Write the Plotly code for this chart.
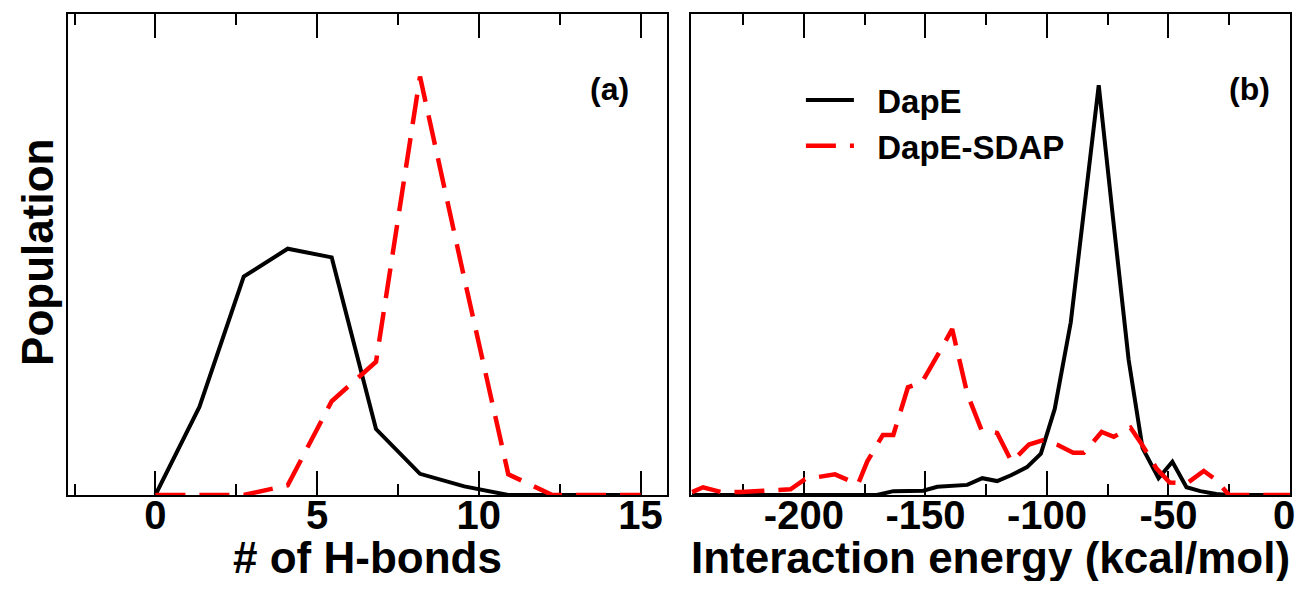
import plotly.graph_objects as go
from plotly.subplots import make_subplots

# ---- data (population, normalised to plot height) ----
hbond_x = [0, 1.36, 2.73, 4.09, 5.45, 6.82, 8.18, 9.55, 10.91, 12.27, 13.64, 15.0]
hbond_dape = [0, 0.183, 0.454, 0.512, 0.494, 0.137, 0.044, 0.018, 0, 0, 0, 0]
hbond_sdap = [0, 0, 0, 0.02, 0.195, 0.277, 0.87, 0.45, 0.043, 0, 0, 0]

energy_dape_x = [-246, -170, -163.2, -150.9, -145.1, -132.8, -126.6, -120.5, -114.8,
                 -108.2, -102.5, -96.8, -90.2, -84.5, -78.7, -73.0, -66.4, -60.7,
                 -54.1, -48.4, -42.6, -36.9, -30.3, -25.4, 0]
energy_dape_y = [0, 0, 0.008, 0.009, 0.017, 0.021, 0.035, 0.029, 0.041,
                 0.058, 0.086, 0.179, 0.359, 0.604, 0.852, 0.584, 0.281, 0.098,
                 0.035, 0.069, 0.016, 0.008, 0.002, 0, 0]

energy_sdap_x = [-246, -241.5, -234, -226, -216.5, -205.5, -199.5, -187.2, -177.8,
                 -173.9, -167.5, -163.2, -157.2, -151.5, -143.5, -139, -132.8, -127,
                 -120.5, -114.5, -107.4, -101.5, -95.5, -89.2, -84.8, -77.5, -72.5,
                 -65.6, -60.8, -54.9, -49.5, -42.5, -35.5, -30.3, -25.2, 0]
energy_sdap_y = [0.006, 0.016, 0.006, 0.006, 0.009, 0.012, 0.033, 0.043, 0.022,
                 0.07, 0.125, 0.125, 0.224, 0.234, 0.304, 0.345, 0.211, 0.136,
                 0.129, 0.069, 0.105, 0.114, 0.104, 0.088, 0.088, 0.131, 0.121,
                 0.14, 0.104, 0.055, 0.026, 0.024, 0.05, 0.031, 0, 0]

series_names = ["DapE", "DapE-SDAP"]
hbond_ticks = [0, 5, 10, 15]
hbond_ticktext = ["0", "5", "10", "15"]
energy_ticks = [-200, -150, -100, -50, 0]
energy_ticktext = ["-200", "-150", "-100", "-50", "0"]

FONT = "Liberation Sans, Arial, sans-serif"
W, H = 1309, 589
OFF = 8                      # default page margin around the plot div
Wf, Hf = W - 2 * OFF, H - 2 * OFF
E_RANGE = [-246.3, 0]

def px_x(p):
    return (p - OFF) / Wf

def px_y(p):
    return 1 - (p - OFF) / Hf

fig = make_subplots(rows=1, cols=2)

black = dict(color="black", width=4)
red = dict(color="#ff0000", width=4.5, dash="30px,14px")

fig.add_trace(go.Scatter(x=hbond_x, y=hbond_dape, mode="lines", line=black,
                         name=series_names[0], showlegend=False), row=1, col=1)
fig.add_trace(go.Scatter(x=hbond_x, y=hbond_sdap, mode="lines", line=red,
                         name=series_names[1], showlegend=False), row=1, col=1)
fig.add_trace(go.Scatter(x=energy_dape_x, y=energy_dape_y, mode="lines", line=black,
                         name="\u00a0\u00a0" + series_names[0]), row=1, col=2)
fig.add_trace(go.Scatter(x=energy_sdap_x, y=energy_sdap_y, mode="lines", line=red,
                         name="\u00a0\u00a0" + series_names[1]), row=1, col=2)
# empty trace that carries the overlay axis used for the edge label "0"
fig.add_trace(go.Scatter(x=[], y=[], xaxis="x3", yaxis="y2", showlegend=False,
                         hoverinfo="skip"))

tickfont = dict(family=FONT, size=40, color="black", weight="bold")
xcommon = dict(showline=True, linewidth=2, linecolor="black", mirror="allticks",
               ticks="inside", ticklen=24, tickwidth=1.5, tickcolor="black",
               showgrid=False, zeroline=False, layer="below traces",
               tickfont=tickfont, ticklabelstandoff=-16)
ycommon = dict(showline=True, linewidth=2, linecolor="black", mirror=True,
               ticks="", showticklabels=False, showgrid=False, zeroline=False,
               range=[0, 1], domain=[px_y(495), px_y(14)])

fig.update_xaxes(xcommon, row=1, col=1)
fig.update_xaxes(xcommon, row=1, col=2)
fig.update_xaxes(range=[-2.71, 15.83], tickvals=hbond_ticks, ticktext=hbond_ticktext,
                 domain=[px_x(68), px_x(670)],
                 minor=dict(dtick=2.5, tick0=0, ticks="inside", ticklen=11,
                            tickwidth=1.5, tickcolor="black", showgrid=False),
                 row=1, col=1)
fig.update_xaxes(range=E_RANGE, tickvals=energy_ticks,
                 ticktext=energy_ticktext[:-1] + [""],
                 domain=[px_x(694), px_x(1295)],
                 minor=dict(dtick=25, tick0=0, ticks="inside", ticklen=11,
                            tickwidth=1.5, tickcolor="black", showgrid=False),
                 row=1, col=2)
fig.update_yaxes(ycommon, row=1, col=1)
fig.update_yaxes(ycommon, row=1, col=2)

clear = "rgba(0,0,0,0)"
fig.update_layout(xaxis3=dict(
    overlaying="x2", anchor="y2", side="bottom", range=E_RANGE,
    tickvals=energy_ticks[-1:], ticktext=energy_ticktext[-1:],
    showline=True, linewidth=2, linecolor=clear,
    ticks="inside", ticklen=24, tickwidth=1.5, tickcolor=clear,
    showgrid=False, zeroline=False,
    tickfont=tickfont, ticklabelstandoff=-16, ticklabelshift=-6,
))

title_font = dict(family=FONT, size=44, color="black", weight="bold")
annos = [
    dict(text="# of H-bonds", x=px_x(369), y=px_y(557), font=title_font),
    dict(text="Interaction energy (kcal/mol)", x=px_x(994), y=px_y(557), font=title_font),
    dict(text="Population", x=px_x(38), y=px_y(252), font=title_font, textangle=-90),
    dict(text="(a)", x=px_x(612), y=px_y(89),
         font=dict(family=FONT, size=32, color="black", weight="bold")),
    dict(text="(b)", x=px_x(1254), y=px_y(89),
         font=dict(family=FONT, size=32, color="black", weight="bold")),
]
for a in annos:
    fig.add_annotation(xref="paper", yref="paper", showarrow=False,
                       xanchor="center", yanchor="middle", **a)

fig.update_layout(
    width=Wf, height=Hf,
    margin=dict(l=0, r=0, t=0, b=0),
    paper_bgcolor="white", plot_bgcolor="white",
    legend=dict(x=px_x(804), y=px_y(72), xanchor="left", yanchor="top",
                bgcolor="rgba(0,0,0,0)", borderwidth=0, itemwidth=48,
                font=dict(family=FONT, size=33, color="black", weight="bold"),
                tracegroupgap=0),
)

fig.write_html("out.html", config={"displayModeBar": False})
